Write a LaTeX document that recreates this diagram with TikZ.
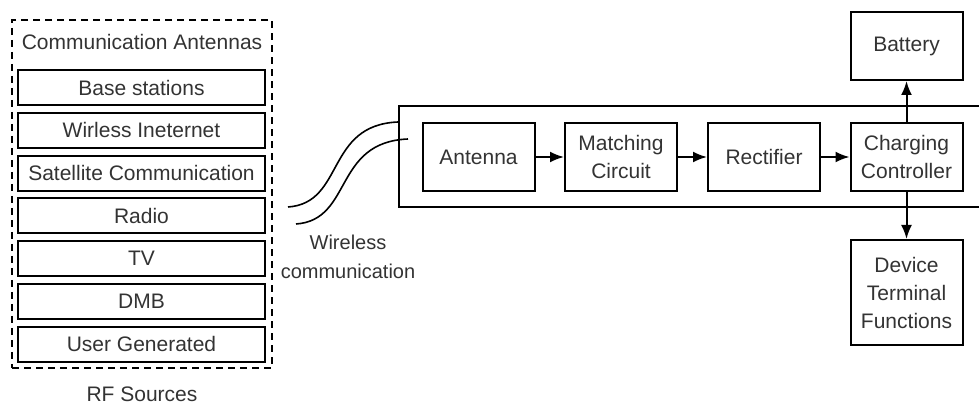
\documentclass[tikz,border=0pt]{standalone}
\usepackage{fontspec}
\setmainfont{Liberation Sans}
\usetikzlibrary{arrows.meta}
\tikzset{
  lbl/.style={text=black!80, font=\fontsize{10.5}{14}\selectfont, align=center},
  srcbox/.style={lbl, draw=black, line width=1pt, minimum width=123.5pt, minimum height=17.5pt, inner sep=0pt},
  procbox/.style={lbl, draw=black, line width=1pt, minimum width=56pt, minimum height=34pt, inner sep=0pt},
  flow/.style={line width=1pt, -{Latex[length=7pt,width=5.5pt]}},
  wave/.style={line width=0.8pt},
}
\begin{document}
\begin{tikzpicture}[x=0.5pt,y=-0.5pt]
\useasboundingbox (0,0) rectangle (979,405);
% RF sources
\node[draw=black, dashed, dash pattern=on 3.5pt off 2.5pt, line width=1pt, minimum width=130pt, minimum height=174pt, inner sep=0pt] (src) at (142,194) {};
\node[lbl] (title) at (142,42) {Communication Antennas};
\node[srcbox] (s1) at (141.5,87.5) {Base stations};
\node[srcbox] (s2) at (141.5,130.3) {Wirless Ineternet};
\node[srcbox] (s3) at (141.5,173.1) {Satellite Communication};
\node[srcbox] (s4) at (141.5,215.9) {Radio};
\node[srcbox] (s5) at (141.5,258.7) {TV};
\node[srcbox] (s6) at (141.5,301.5) {DMB};
\node[srcbox] (s7) at (141.5,344.3) {User Generated};
\node[lbl] (rfs) at (142,394) {RF Sources};
% wireless
\coordinate (w1s) at (288,207);
\coordinate (w1e) at (398,122);
\coordinate (w2s) at (296,224);
\coordinate (w2e) at (408,139);
\draw[wave] (w1s) .. controls (345,203) and (325,125) .. (w1e);
\draw[wave] (w2s) .. controls (353,220) and (333,142) .. (w2e);
\node[lbl, font=\fontsize{10}{14.5}\selectfont] (wl) at (348,257) {Wireless\\communication};
% receiver outer box (open at right)
\coordinate (ot) at (982,106);
\coordinate (otl) at (399,106);
\coordinate (obl) at (399,207);
\coordinate (ob) at (982,207);
\draw[line width=1pt] (ot) -- (otl) -- (obl) -- (ob);
% blocks
\node[procbox] (ant) at (478.5,157) {Antenna};
\node[procbox] (mat) at (621,157) {Matching\\Circuit};
\node[procbox] (rec) at (764,157) {Rectifier};
\node[procbox] (chg) at (906.5,157) {Charging\\Controller};
\node[procbox] (bat) at (906.5,46) {Battery};
\node[procbox, minimum height=52.5pt] (dev) at (906.5,292.5) {Device\\Terminal\\Functions};
\draw[flow] (ant) -- (mat);
\draw[flow] (mat) -- (rec);
\draw[flow] (rec) -- (chg);
\draw[flow] (chg) -- (bat);
\draw[flow] (chg) -- (dev);
\end{tikzpicture}
\end{document}
